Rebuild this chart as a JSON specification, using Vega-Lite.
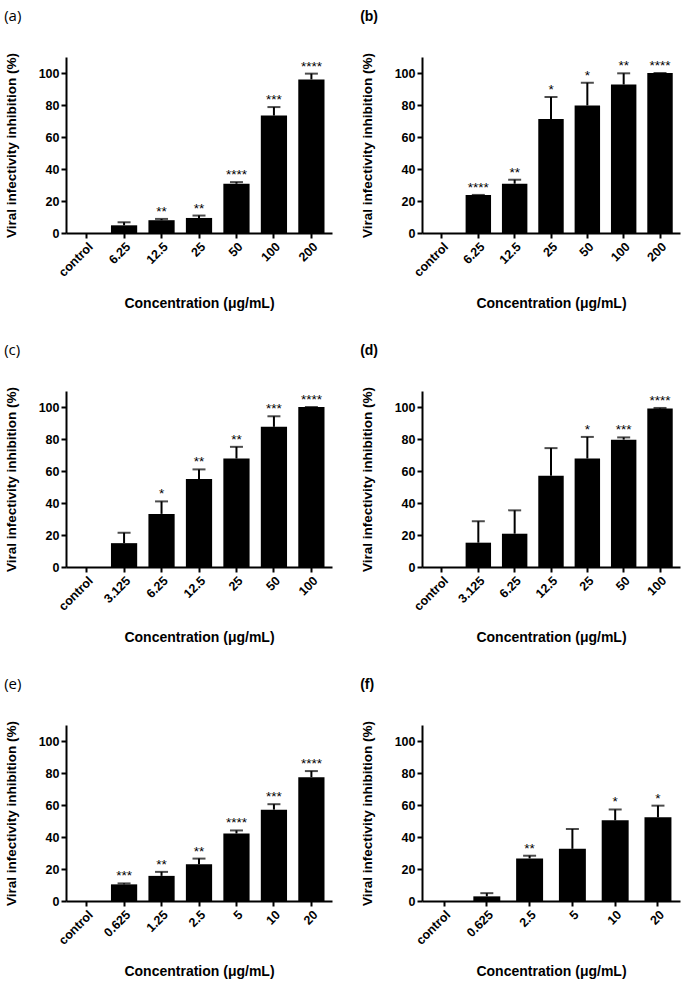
{
 "$schema": "https://vega.github.io/schema/vega-lite/v6.json",
 "padding": {"left": 4, "top": 9, "right": 2, "bottom": 2},
 "background": "white",
 "columns": 2,
 "spacing": {"row": 32, "column": 28},
 "config": {
  "view": {"stroke": null},
  "axis": {"domainColor": "black", "domainWidth": 2, "tickColor": "black", "tickWidth": 2, "tickSize": 5, "labelFont": "Liberation Sans", "labelFontWeight": "bold", "labelFontSize": 12.5, "labelColor": "black", "titleFont": "Liberation Sans", "titleFontWeight": "bold", "titleFontSize": 13.5, "titleColor": "black", "grid": false, "labelOverlap": false},
  "axisX": {"labelAngle": -45, "titlePadding": 18, "titleFontSize": 14},
  "axisY": {"titlePadding": 20, "labelPadding": 2},
  "title": {"anchor": "start", "frame": "bounds", "fontSize": 15, "font": "Open Sans", "fontWeight": "normal", "color": "black", "offset": 28}
 },
 "datasets": {
  "a": [
   {"conc": "control", "mean": 0, "upper": null, "sig": ""},
   {"conc": "6.25", "mean": 4.8, "upper": 6.7, "sig": ""},
   {"conc": "12.5", "mean": 8, "upper": 8.8, "sig": "**"},
   {"conc": "25", "mean": 9.4, "upper": 10.9, "sig": "**"},
   {"conc": "50", "mean": 30.8, "upper": 31.8, "sig": "****"},
   {"conc": "100", "mean": 73.4, "upper": 78.7, "sig": "***"},
   {"conc": "200", "mean": 96, "upper": 99.6, "sig": "****"}
  ],
  "b": [
   {"conc": "control", "mean": 0, "upper": null, "sig": ""},
   {"conc": "6.25", "mean": 23.8, "upper": 23.8, "sig": "****"},
   {"conc": "12.5", "mean": 30.8, "upper": 33.3, "sig": "**"},
   {"conc": "25", "mean": 71.3, "upper": 85, "sig": "*"},
   {"conc": "50", "mean": 79.7, "upper": 93.9, "sig": "*"},
   {"conc": "100", "mean": 92.8, "upper": 99.8, "sig": "**"},
   {"conc": "200", "mean": 100, "upper": 100, "sig": "****"}
  ],
  "c": [
   {"conc": "control", "mean": 0, "upper": null, "sig": ""},
   {"conc": "3.125", "mean": 14.9, "upper": 21.4, "sig": ""},
   {"conc": "6.25", "mean": 33.2, "upper": 41, "sig": "*"},
   {"conc": "12.5", "mean": 55, "upper": 61, "sig": "**"},
   {"conc": "25", "mean": 67.8, "upper": 75.1, "sig": "**"},
   {"conc": "50", "mean": 87.6, "upper": 94.2, "sig": "***"},
   {"conc": "100", "mean": 100, "upper": 100, "sig": "****"}
  ],
  "d": [
   {"conc": "control", "mean": 0, "upper": null, "sig": ""},
   {"conc": "3.125", "mean": 15.2, "upper": 28.6, "sig": ""},
   {"conc": "6.25", "mean": 20.8, "upper": 35.4, "sig": ""},
   {"conc": "12.5", "mean": 57, "upper": 74.3, "sig": ""},
   {"conc": "25", "mean": 67.8, "upper": 81.3, "sig": "*"},
   {"conc": "50", "mean": 79.6, "upper": 81, "sig": "***"},
   {"conc": "100", "mean": 99, "upper": 99.4, "sig": "****"}
  ],
  "e": [
   {"conc": "control", "mean": 0, "upper": null, "sig": ""},
   {"conc": "0.625", "mean": 10.4, "upper": 11, "sig": "***"},
   {"conc": "1.25", "mean": 15.7, "upper": 18.2, "sig": "**"},
   {"conc": "2.5", "mean": 23, "upper": 26.5, "sig": "**"},
   {"conc": "5", "mean": 42.2, "upper": 44.1, "sig": "****"},
   {"conc": "10", "mean": 57.1, "upper": 60.5, "sig": "***"},
   {"conc": "20", "mean": 77.4, "upper": 81.2, "sig": "****"}
  ],
  "f": [
   {"conc": "control", "mean": 0, "upper": null, "sig": ""},
   {"conc": "0.625", "mean": 2.9, "upper": 4.9, "sig": ""},
   {"conc": "2.5", "mean": 26.6, "upper": 28.3, "sig": "**"},
   {"conc": "5", "mean": 32.6, "upper": 45, "sig": ""},
   {"conc": "10", "mean": 50.4, "upper": 57.2, "sig": "*"},
   {"conc": "20", "mean": 52.3, "upper": 59.6, "sig": "*"}
  ]
 },
 "concat": [
  {
   "title": {"text": "(a)"},
   "width": 266, "height": 176,
   "data": {"name": "a"},
   "encoding": {"x": {"field": "conc", "type": "nominal", "scale": {"domain": ["control", "6.25", "12.5", "25", "50", "100", "200"], "paddingInner": 0.3, "paddingOuter": 0.2}, "axis": {"title": "Concentration (μg/mL)"}}},
   "layer": [
    {"mark": {"type": "bar", "color": "black"}, "encoding": {"y": {"field": "mean", "type": "quantitative", "scale": {"domain": [0, 110], "nice": false}, "axis": {"values": [0, 20, 40, 60, 80, 100], "title": "Viral infectivity inhibition (%)"}}}},
    {"mark": {"type": "rule", "strokeWidth": 2, "color": "black"}, "encoding": {"y": {"field": "mean", "type": "quantitative", "scale": {"domain": [0, 110], "nice": false}, "axis": {"values": [0, 20, 40, 60, 80, 100], "title": "Viral infectivity inhibition (%)"}}, "y2": {"field": "upper"}}},
    {"mark": {"type": "tick", "orient": "horizontal", "size": 13, "thickness": 2, "color": "black"}, "encoding": {"y": {"field": "upper", "type": "quantitative", "scale": {"domain": [0, 110], "nice": false}, "axis": {"values": [0, 20, 40, 60, 80, 100], "title": "Viral infectivity inhibition (%)"}}}},
    {"mark": {"type": "text", "baseline": "alphabetic", "dy": -3, "fontSize": 13.5, "font": "Liberation Sans", "color": "black"}, "encoding": {"y": {"field": "upper", "type": "quantitative", "scale": {"domain": [0, 110], "nice": false}, "axis": {"values": [0, 20, 40, 60, 80, 100], "title": "Viral infectivity inhibition (%)"}}, "text": {"field": "sig"}}}
   ]
  },
  {
   "title": {"text": "(b)", "font": "Liberation Sans", "fontWeight": "bold", "fontSize": 14},
   "width": 258, "height": 176,
   "data": {"name": "b"},
   "encoding": {"x": {"field": "conc", "type": "nominal", "scale": {"domain": ["control", "6.25", "12.5", "25", "50", "100", "200"], "paddingInner": 0.3, "paddingOuter": 0.2}, "axis": {"title": "Concentration (μg/mL)"}}},
   "layer": [
    {"mark": {"type": "bar", "color": "black"}, "encoding": {"y": {"field": "mean", "type": "quantitative", "scale": {"domain": [0, 110], "nice": false}, "axis": {"values": [0, 20, 40, 60, 80, 100], "title": "Viral infectivity inhibition (%)"}}}},
    {"mark": {"type": "rule", "strokeWidth": 2, "color": "black"}, "encoding": {"y": {"field": "mean", "type": "quantitative", "scale": {"domain": [0, 110], "nice": false}, "axis": {"values": [0, 20, 40, 60, 80, 100], "title": "Viral infectivity inhibition (%)"}}, "y2": {"field": "upper"}}},
    {"mark": {"type": "tick", "orient": "horizontal", "size": 13, "thickness": 2, "color": "black"}, "encoding": {"y": {"field": "upper", "type": "quantitative", "scale": {"domain": [0, 110], "nice": false}, "axis": {"values": [0, 20, 40, 60, 80, 100], "title": "Viral infectivity inhibition (%)"}}}},
    {"mark": {"type": "text", "baseline": "alphabetic", "dy": -3, "fontSize": 13.5, "font": "Liberation Sans", "color": "black"}, "encoding": {"y": {"field": "upper", "type": "quantitative", "scale": {"domain": [0, 110], "nice": false}, "axis": {"values": [0, 20, 40, 60, 80, 100], "title": "Viral infectivity inhibition (%)"}}, "text": {"field": "sig"}}}
   ]
  },
  {
   "title": {"text": "(c)"},
   "width": 266, "height": 176,
   "data": {"name": "c"},
   "encoding": {"x": {"field": "conc", "type": "nominal", "scale": {"domain": ["control", "3.125", "6.25", "12.5", "25", "50", "100"], "paddingInner": 0.3, "paddingOuter": 0.2}, "axis": {"title": "Concentration (μg/mL)"}}},
   "layer": [
    {"mark": {"type": "bar", "color": "black"}, "encoding": {"y": {"field": "mean", "type": "quantitative", "scale": {"domain": [0, 110], "nice": false}, "axis": {"values": [0, 20, 40, 60, 80, 100], "title": "Viral infectivity inhibition (%)"}}}},
    {"mark": {"type": "rule", "strokeWidth": 2, "color": "black"}, "encoding": {"y": {"field": "mean", "type": "quantitative", "scale": {"domain": [0, 110], "nice": false}, "axis": {"values": [0, 20, 40, 60, 80, 100], "title": "Viral infectivity inhibition (%)"}}, "y2": {"field": "upper"}}},
    {"mark": {"type": "tick", "orient": "horizontal", "size": 13, "thickness": 2, "color": "black"}, "encoding": {"y": {"field": "upper", "type": "quantitative", "scale": {"domain": [0, 110], "nice": false}, "axis": {"values": [0, 20, 40, 60, 80, 100], "title": "Viral infectivity inhibition (%)"}}}},
    {"mark": {"type": "text", "baseline": "alphabetic", "dy": -3, "fontSize": 13.5, "font": "Liberation Sans", "color": "black"}, "encoding": {"y": {"field": "upper", "type": "quantitative", "scale": {"domain": [0, 110], "nice": false}, "axis": {"values": [0, 20, 40, 60, 80, 100], "title": "Viral infectivity inhibition (%)"}}, "text": {"field": "sig"}}}
   ]
  },
  {
   "title": {"text": "(d)", "font": "Liberation Sans", "fontWeight": "bold", "fontSize": 14},
   "width": 258, "height": 176,
   "data": {"name": "d"},
   "encoding": {"x": {"field": "conc", "type": "nominal", "scale": {"domain": ["control", "3.125", "6.25", "12.5", "25", "50", "100"], "paddingInner": 0.3, "paddingOuter": 0.2}, "axis": {"title": "Concentration (μg/mL)"}}},
   "layer": [
    {"mark": {"type": "bar", "color": "black"}, "encoding": {"y": {"field": "mean", "type": "quantitative", "scale": {"domain": [0, 110], "nice": false}, "axis": {"values": [0, 20, 40, 60, 80, 100], "title": "Viral infectivity inhibition (%)"}}}},
    {"mark": {"type": "rule", "strokeWidth": 2, "color": "black"}, "encoding": {"y": {"field": "mean", "type": "quantitative", "scale": {"domain": [0, 110], "nice": false}, "axis": {"values": [0, 20, 40, 60, 80, 100], "title": "Viral infectivity inhibition (%)"}}, "y2": {"field": "upper"}}},
    {"mark": {"type": "tick", "orient": "horizontal", "size": 13, "thickness": 2, "color": "black"}, "encoding": {"y": {"field": "upper", "type": "quantitative", "scale": {"domain": [0, 110], "nice": false}, "axis": {"values": [0, 20, 40, 60, 80, 100], "title": "Viral infectivity inhibition (%)"}}}},
    {"mark": {"type": "text", "baseline": "alphabetic", "dy": -3, "fontSize": 13.5, "font": "Liberation Sans", "color": "black"}, "encoding": {"y": {"field": "upper", "type": "quantitative", "scale": {"domain": [0, 110], "nice": false}, "axis": {"values": [0, 20, 40, 60, 80, 100], "title": "Viral infectivity inhibition (%)"}}, "text": {"field": "sig"}}}
   ]
  },
  {
   "title": {"text": "(e)"},
   "width": 266, "height": 176,
   "data": {"name": "e"},
   "encoding": {"x": {"field": "conc", "type": "nominal", "scale": {"domain": ["control", "0.625", "1.25", "2.5", "5", "10", "20"], "paddingInner": 0.3, "paddingOuter": 0.2}, "axis": {"title": "Concentration (μg/mL)"}}},
   "layer": [
    {"mark": {"type": "bar", "color": "black"}, "encoding": {"y": {"field": "mean", "type": "quantitative", "scale": {"domain": [0, 110], "nice": false}, "axis": {"values": [0, 20, 40, 60, 80, 100], "title": "Viral infectivity inhibition (%)"}}}},
    {"mark": {"type": "rule", "strokeWidth": 2, "color": "black"}, "encoding": {"y": {"field": "mean", "type": "quantitative", "scale": {"domain": [0, 110], "nice": false}, "axis": {"values": [0, 20, 40, 60, 80, 100], "title": "Viral infectivity inhibition (%)"}}, "y2": {"field": "upper"}}},
    {"mark": {"type": "tick", "orient": "horizontal", "size": 13, "thickness": 2, "color": "black"}, "encoding": {"y": {"field": "upper", "type": "quantitative", "scale": {"domain": [0, 110], "nice": false}, "axis": {"values": [0, 20, 40, 60, 80, 100], "title": "Viral infectivity inhibition (%)"}}}},
    {"mark": {"type": "text", "baseline": "alphabetic", "dy": -3, "fontSize": 13.5, "font": "Liberation Sans", "color": "black"}, "encoding": {"y": {"field": "upper", "type": "quantitative", "scale": {"domain": [0, 110], "nice": false}, "axis": {"values": [0, 20, 40, 60, 80, 100], "title": "Viral infectivity inhibition (%)"}}, "text": {"field": "sig"}}}
   ]
  },
  {
   "title": {"text": "(f)", "font": "Liberation Sans", "fontWeight": "bold", "fontSize": 14},
   "width": 258, "height": 176,
   "data": {"name": "f"},
   "encoding": {"x": {"field": "conc", "type": "nominal", "scale": {"domain": ["control", "0.625", "2.5", "5", "10", "20"], "paddingInner": 0.37, "paddingOuter": 0.2}, "axis": {"title": "Concentration (μg/mL)"}}},
   "layer": [
    {"mark": {"type": "bar", "color": "black"}, "encoding": {"y": {"field": "mean", "type": "quantitative", "scale": {"domain": [0, 110], "nice": false}, "axis": {"values": [0, 20, 40, 60, 80, 100], "title": "Viral infectivity inhibition (%)"}}}},
    {"mark": {"type": "rule", "strokeWidth": 2, "color": "black"}, "encoding": {"y": {"field": "mean", "type": "quantitative", "scale": {"domain": [0, 110], "nice": false}, "axis": {"values": [0, 20, 40, 60, 80, 100], "title": "Viral infectivity inhibition (%)"}}, "y2": {"field": "upper"}}},
    {"mark": {"type": "tick", "orient": "horizontal", "size": 13, "thickness": 2, "color": "black"}, "encoding": {"y": {"field": "upper", "type": "quantitative", "scale": {"domain": [0, 110], "nice": false}, "axis": {"values": [0, 20, 40, 60, 80, 100], "title": "Viral infectivity inhibition (%)"}}}},
    {"mark": {"type": "text", "baseline": "alphabetic", "dy": -3, "fontSize": 13.5, "font": "Liberation Sans", "color": "black"}, "encoding": {"y": {"field": "upper", "type": "quantitative", "scale": {"domain": [0, 110], "nice": false}, "axis": {"values": [0, 20, 40, 60, 80, 100], "title": "Viral infectivity inhibition (%)"}}, "text": {"field": "sig"}}}
   ]
  }
 ]
}
